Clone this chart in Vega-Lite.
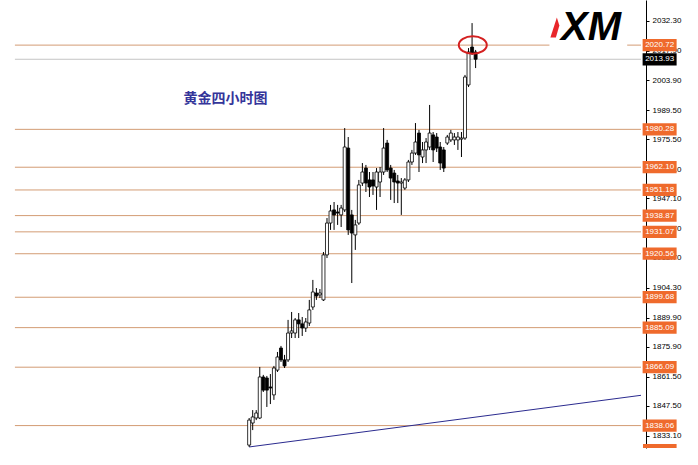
{
  "$schema": "https://vega.github.io/schema/vega-lite/v6.json",
  "width": 646,
  "height": 448,
  "autosize": "none",
  "padding": {"left": 0, "top": 0, "right": 52, "bottom": 17},
  "background": "white",
  "config": {
    "view": {"stroke": null},
    "axisY": {"orient": "right", "title": null, "grid": false, "format": ".2f", "domainColor": "black", "domainWidth": 1, "tickColor": "black", "tickSize": 3, "labelPadding": 3,
      "labelFont": "Liberation Sans", "labelFontSize": 8, "labelColor": "black", "labelOverlap": false, "labelFlush": false, "labelBaseline": "middle"}
  },
  "datasets": {
    "candles": [
      {"i":0,"o":1828.7,"h":1841.7,"l":1827.8,"c":1840.7},
      {"i":1,"o":1839.3,"h":1845.5,"l":1835.9,"c":1842.2},
      {"i":2,"o":1841.7,"h":1845.5,"l":1840.7,"c":1844.1},
      {"i":3,"o":1841.7,"h":1866.2,"l":1841.2,"c":1861.4},
      {"i":4,"o":1861.4,"h":1862.4,"l":1854.2,"c":1855.1},
      {"i":5,"o":1860.9,"h":1861.9,"l":1847.0,"c":1855.1},
      {"i":6,"o":1856.6,"h":1862.8,"l":1848.4,"c":1856.1},
      {"i":7,"o":1852.8,"h":1866.7,"l":1850.4,"c":1865.7},
      {"i":8,"o":1864.7,"h":1873.4,"l":1863.8,"c":1871.0},
      {"i":9,"o":1875.3,"h":1876.3,"l":1868.6,"c":1869.6},
      {"i":10,"o":1869.6,"h":1872.0,"l":1865.7,"c":1866.7},
      {"i":11,"o":1869.6,"h":1888.8,"l":1868.6,"c":1882.5},
      {"i":12,"o":1882.5,"h":1892.6,"l":1880.1,"c":1883.5},
      {"i":13,"o":1882.5,"h":1889.7,"l":1880.1,"c":1888.8},
      {"i":14,"o":1888.8,"h":1892.1,"l":1880.1,"c":1886.9},
      {"i":15,"o":1886.9,"h":1890.2,"l":1881.1,"c":1884.9},
      {"i":16,"o":1884.9,"h":1889.7,"l":1883.0,"c":1887.8},
      {"i":17,"o":1887.3,"h":1898.4,"l":1885.9,"c":1893.6},
      {"i":18,"o":1895.0,"h":1908.0,"l":1893.6,"c":1902.2},
      {"i":19,"o":1901.7,"h":1904.1,"l":1898.4,"c":1900.3},
      {"i":20,"o":1900.8,"h":1903.6,"l":1899.3,"c":1901.7},
      {"i":21,"o":1898.4,"h":1921.4,"l":1897.9,"c":1920.0},
      {"i":22,"o":1920.0,"h":1937.7,"l":1918.5,"c":1935.3},
      {"i":23,"o":1935.3,"h":1944.0,"l":1932.0,"c":1941.1},
      {"i":24,"o":1941.6,"h":1945.4,"l":1932.0,"c":1939.2},
      {"i":25,"o":1940.6,"h":1944.0,"l":1934.4,"c":1940.1},
      {"i":26,"o":1939.2,"h":1944.0,"l":1933.4,"c":1942.5},
      {"i":27,"o":1941.6,"h":1980.9,"l":1940.6,"c":1971.8},
      {"i":28,"o":1971.3,"h":1976.6,"l":1929.6,"c":1932.0},
      {"i":29,"o":1939.2,"h":1941.6,"l":1906.5,"c":1930.5},
      {"i":30,"o":1929.6,"h":1936.8,"l":1922.4,"c":1934.4},
      {"i":31,"o":1935.3,"h":1956.0,"l":1934.4,"c":1953.6},
      {"i":32,"o":1954.5,"h":1964.1,"l":1953.1,"c":1959.8},
      {"i":33,"o":1961.7,"h":1963.2,"l":1950.2,"c":1954.5},
      {"i":34,"o":1956.0,"h":1959.8,"l":1947.8,"c":1952.6},
      {"i":35,"o":1956.0,"h":1959.8,"l":1948.8,"c":1953.1},
      {"i":36,"o":1952.6,"h":1961.7,"l":1941.6,"c":1959.8},
      {"i":37,"o":1955.0,"h":1962.2,"l":1947.8,"c":1959.8},
      {"i":38,"o":1959.8,"h":1980.9,"l":1958.4,"c":1971.3},
      {"i":39,"o":1973.7,"h":1975.2,"l":1959.8,"c":1960.8},
      {"i":40,"o":1961.7,"h":1963.2,"l":1946.4,"c":1956.9},
      {"i":41,"o":1959.3,"h":1960.8,"l":1944.9,"c":1955.0},
      {"i":42,"o":1955.5,"h":1958.4,"l":1944.9,"c":1954.5},
      {"i":43,"o":1954.5,"h":1956.9,"l":1939.2,"c":1955.0},
      {"i":44,"o":1952.1,"h":1956.9,"l":1951.2,"c":1956.0},
      {"i":45,"o":1956.0,"h":1965.6,"l":1955.0,"c":1964.6},
      {"i":46,"o":1964.6,"h":1970.4,"l":1963.2,"c":1968.9},
      {"i":47,"o":1968.9,"h":1983.3,"l":1968.0,"c":1974.2},
      {"i":48,"o":1978.5,"h":1980.0,"l":1959.8,"c":1968.0},
      {"i":49,"o":1967.0,"h":1974.2,"l":1964.1,"c":1970.4},
      {"i":50,"o":1970.4,"h":1976.1,"l":1964.1,"c":1974.2},
      {"i":51,"o":1971.8,"h":1992.0,"l":1970.4,"c":1978.5},
      {"i":52,"o":1977.6,"h":1979.0,"l":1964.6,"c":1970.4},
      {"i":53,"o":1976.6,"h":1978.5,"l":1969.4,"c":1971.3},
      {"i":54,"o":1971.8,"h":1974.2,"l":1960.8,"c":1964.1},
      {"i":55,"o":1970.4,"h":1971.8,"l":1959.8,"c":1961.7},
      {"i":56,"o":1973.7,"h":1977.6,"l":1972.8,"c":1976.6},
      {"i":57,"o":1975.2,"h":1980.0,"l":1974.2,"c":1978.5},
      {"i":58,"o":1975.2,"h":1978.5,"l":1972.8,"c":1976.6},
      {"i":59,"o":1975.2,"h":1979.0,"l":1970.4,"c":1976.6},
      {"i":60,"o":1975.6,"h":1979.0,"l":1967.0,"c":1976.1},
      {"i":61,"o":1976.1,"h":2006.4,"l":1975.2,"c":2005.4},
      {"i":62,"o":2001.6,"h":2019.3,"l":2000.6,"c":2017.4},
      {"i":63,"o":2019.8,"h":2031.3,"l":2016.0,"c":2016.9},
      {"i":64,"o":2017.4,"h":2018.4,"l":2009.7,"c":2013.93}
    ],
    "levels": [
      {"level": 2020.72}, {"level": 1980.28}, {"level": 1962.10}, {"level": 1951.18},
      {"level": 1938.87}, {"level": 1931.07}, {"level": 1920.56}, {"level": 1899.68},
      {"level": 1885.09}, {"level": 1866.09}, {"level": 1838.06}
    ],
    "price": [{"level": 2013.93}],
    "trend": [{"i": 0, "p": 1827.8}, {"i": 110.74, "p": 1852.6}],
    "one": [{}]
  },
  "layer": [
    {
      "data": {"name": "levels"},
      "mark": {"type": "rule", "color": "#d39c74", "strokeWidth": 1},
      "encoding": {
        "x": {"datum": -66.2, "type": "quantitative", "scale": {"domain": [-69.0, 110.74], "nice": false, "zero": false}, "axis": null},
        "x2": {"datum": 110.74},
        "y": {"field": "level", "type": "quantitative", "scale": {"domain": [1827.3, 2042.38], "nice": false, "zero": false},
          "axis": {"values": [2032.3, 2017.9, 2003.9, 1989.5, 1975.5, 1961.1, 1947.1, 1932.7, 1918.7, 1904.3, 1889.9, 1875.9, 1861.5, 1847.5, 1833.1]}}
      }
    },
    {
      "data": {"name": "price"},
      "mark": {"type": "rule", "color": "#c4c4c4", "strokeWidth": 1},
      "encoding": {
        "x": {"datum": -66.2, "type": "quantitative", "scale": {"domain": [-69.0, 110.74], "nice": false, "zero": false}, "axis": null},
        "x2": {"datum": 110.74},
        "y": {"field": "level", "type": "quantitative", "scale": {"domain": [1827.3, 2042.38], "nice": false, "zero": false},
          "axis": {"values": [2032.3, 2017.9, 2003.9, 1989.5, 1975.5, 1961.1, 1947.1, 1932.7, 1918.7, 1904.3, 1889.9, 1875.9, 1861.5, 1847.5, 1833.1]}}
      }
    },
    {
      "data": {"name": "trend"},
      "mark": {"type": "line", "color": "#2b2b8f", "strokeWidth": 1},
      "encoding": {
        "x": {"field": "i", "type": "quantitative", "scale": {"domain": [-69.0, 110.74], "nice": false, "zero": false}, "axis": null},
        "y": {"field": "p", "type": "quantitative", "scale": {"domain": [1827.3, 2042.38], "nice": false, "zero": false},
          "axis": {"values": [2032.3, 2017.9, 2003.9, 1989.5, 1975.5, 1961.1, 1947.1, 1932.7, 1918.7, 1904.3, 1889.9, 1875.9, 1861.5, 1847.5, 1833.1]}}
      }
    },
    {
      "data": {"name": "candles"},
      "mark": {"type": "rule", "color": "black", "strokeWidth": 1},
      "encoding": {
        "x": {"field": "i", "type": "quantitative", "scale": {"domain": [-69.0, 110.74], "nice": false, "zero": false}, "axis": null},
        "y": {"field": "l", "type": "quantitative", "scale": {"domain": [1827.3, 2042.38], "nice": false, "zero": false},
          "axis": {"values": [2032.3, 2017.9, 2003.9, 1989.5, 1975.5, 1961.1, 1947.1, 1932.7, 1918.7, 1904.3, 1889.9, 1875.9, 1861.5, 1847.5, 1833.1]}},
        "y2": {"field": "h"}
      }
    },
    {
      "data": {"name": "candles"},
      "mark": {"type": "bar", "orient": "vertical", "width": 3, "stroke": "black", "strokeWidth": 0.8},
      "encoding": {
        "x": {"field": "i", "type": "quantitative", "scale": {"domain": [-69.0, 110.74], "nice": false, "zero": false}, "axis": null},
        "y": {"field": "o", "type": "quantitative", "scale": {"domain": [1827.3, 2042.38], "nice": false, "zero": false},
          "axis": {"values": [2032.3, 2017.9, 2003.9, 1989.5, 1975.5, 1961.1, 1947.1, 1932.7, 1918.7, 1904.3, 1889.9, 1875.9, 1861.5, 1847.5, 1833.1]}},
        "y2": {"field": "c"},
        "fill": {"condition": {"test": "datum.c >= datum.o", "value": "white"}, "value": "black"}
      }
    },
    {
      "data": {"name": "one"},
      "mark": {"type": "point", "shape": "M -1 0 A 1 0.62 0 1 0 1 0 A 1 0.62 0 1 0 -1 0 Z", "size": 784, "filled": false, "stroke": "#d42020", "strokeWidth": 2, "opacity": 1},
      "encoding": {
        "x": {"datum": 63.2, "type": "quantitative", "scale": {"domain": [-69.0, 110.74], "nice": false, "zero": false}, "axis": null},
        "y": {"datum": 2020.8, "type": "quantitative", "scale": {"domain": [1827.3, 2042.38], "nice": false, "zero": false},
          "axis": {"values": [2032.3, 2017.9, 2003.9, 1989.5, 1975.5, 1961.1, 1947.1, 1932.7, 1918.7, 1904.3, 1889.9, 1875.9, 1861.5, 1847.5, 1833.1]}}
      }
    },
    {
      "data": {"name": "one"},
      "mark": {"type": "rect", "fill": "white"},
      "encoding": {
        "x": {"datum": 84.86, "type": "quantitative", "scale": {"domain": [-69.0, 110.74], "nice": false, "zero": false}, "axis": null},
        "x2": {"datum": 106.84},
        "y": {"datum": 2041.4, "type": "quantitative", "scale": {"domain": [1827.3, 2042.38], "nice": false, "zero": false},
          "axis": {"values": [2032.3, 2017.9, 2003.9, 1989.5, 1975.5, 1961.1, 1947.1, 1932.7, 1918.7, 1904.3, 1889.9, 1875.9, 1861.5, 1847.5, 1833.1]}},
        "y2": {"datum": 2019.8}
      }
    },
    {
      "data": {"name": "one"},
      "mark": {"type": "text", "text": "XM", "font": "Liberation Sans", "fontSize": 40, "fontWeight": "bold", "fontStyle": "italic", "color": "black", "align": "center", "baseline": "alphabetic"},
      "encoding": {
        "x": {"datum": 96.6, "type": "quantitative", "scale": {"domain": [-69.0, 110.74], "nice": false, "zero": false}, "axis": null},
        "y": {"datum": 2023.2, "type": "quantitative", "scale": {"domain": [1827.3, 2042.38], "nice": false, "zero": false},
          "axis": {"values": [2032.3, 2017.9, 2003.9, 1989.5, 1975.5, 1961.1, 1947.1, 1932.7, 1918.7, 1904.3, 1889.9, 1875.9, 1861.5, 1847.5, 1833.1]}}
      }
    },
    {
      "data": {"name": "one"},
      "mark": {"type": "point", "shape": "M -0.45 1 L 0.2 -1 L 0.45 -0.2 L 0.1 1 Z", "size": 400, "filled": true, "fill": "#e8262a", "strokeWidth": 0, "opacity": 1},
      "encoding": {
        "x": {"datum": 86.4, "type": "quantitative", "scale": {"domain": [-69.0, 110.74], "nice": false, "zero": false}, "axis": null},
        "y": {"datum": 2029.2, "type": "quantitative", "scale": {"domain": [1827.3, 2042.38], "nice": false, "zero": false},
          "axis": {"values": [2032.3, 2017.9, 2003.9, 1989.5, 1975.5, 1961.1, 1947.1, 1932.7, 1918.7, 1904.3, 1889.9, 1875.9, 1861.5, 1847.5, 1833.1]}}
      }
    },
    {
      "data": {"name": "one"},
      "mark": {"type": "text", "text": "黄金四小时图", "font": "Noto Sans CJK SC", "fontSize": 14, "fontWeight": "bold", "color": "#35359a", "align": "center", "baseline": "middle"},
      "encoding": {
        "x": {"datum": -6.68, "type": "quantitative", "scale": {"domain": [-69.0, 110.74], "nice": false, "zero": false}, "axis": null},
        "y": {"datum": 1994.85, "type": "quantitative", "scale": {"domain": [1827.3, 2042.38], "nice": false, "zero": false},
          "axis": {"values": [2032.3, 2017.9, 2003.9, 1989.5, 1975.5, 1961.1, 1947.1, 1932.7, 1918.7, 1904.3, 1889.9, 1875.9, 1861.5, 1847.5, 1833.1]}}
      }
    },
    {
      "data": {"name": "levels"},
      "mark": {"type": "point", "shape": "M -1 -0.36 L 1 -0.36 L 1 0.36 L -1 0.36 Z", "size": 1156, "filled": true, "fill": "#ef6a2c", "strokeWidth": 0, "opacity": 1},
      "encoding": {
        "x": {"datum": 116.0, "type": "quantitative", "scale": {"domain": [-69.0, 110.74], "nice": false, "zero": false}, "axis": null},
        "y": {"field": "level", "type": "quantitative", "scale": {"domain": [1827.3, 2042.38], "nice": false, "zero": false},
          "axis": {"values": [2032.3, 2017.9, 2003.9, 1989.5, 1975.5, 1961.1, 1947.1, 1932.7, 1918.7, 1904.3, 1889.9, 1875.9, 1861.5, 1847.5, 1833.1]}}
      }
    },
    {
      "data": {"name": "price"},
      "mark": {"type": "point", "shape": "M -1 -0.36 L 1 -0.36 L 1 0.36 L -1 0.36 Z", "size": 1156, "filled": true, "fill": "black", "strokeWidth": 0, "opacity": 1},
      "encoding": {
        "x": {"datum": 116.0, "type": "quantitative", "scale": {"domain": [-69.0, 110.74], "nice": false, "zero": false}, "axis": null},
        "y": {"field": "level", "type": "quantitative", "scale": {"domain": [1827.3, 2042.38], "nice": false, "zero": false},
          "axis": {"values": [2032.3, 2017.9, 2003.9, 1989.5, 1975.5, 1961.1, 1947.1, 1932.7, 1918.7, 1904.3, 1889.9, 1875.9, 1861.5, 1847.5, 1833.1]}}
      }
    },
    {
      "data": {"name": "one"},
      "mark": {"type": "rect", "fill": "#ef6a2c"},
      "encoding": {
        "x": {"datum": 111.3, "type": "quantitative", "scale": {"domain": [-69.0, 110.74], "nice": false, "zero": false}, "axis": null},
        "x2": {"datum": 120.8},
        "y": {"datum": 1829.2, "type": "quantitative", "scale": {"domain": [1827.3, 2042.38], "nice": false, "zero": false},
          "axis": {"values": [2032.3, 2017.9, 2003.9, 1989.5, 1975.5, 1961.1, 1947.1, 1932.7, 1918.7, 1904.3, 1889.9, 1875.9, 1861.5, 1847.5, 1833.1]}},
        "y2": {"datum": 1827.3}
      }
    },
    {
      "data": {"name": "levels"},
      "mark": {"type": "text", "font": "Liberation Sans", "fontSize": 8, "color": "white", "align": "center", "baseline": "middle"},
      "encoding": {
        "x": {"datum": 116.0, "type": "quantitative", "scale": {"domain": [-69.0, 110.74], "nice": false, "zero": false}, "axis": null},
        "y": {"field": "level", "type": "quantitative", "scale": {"domain": [1827.3, 2042.38], "nice": false, "zero": false},
          "axis": {"values": [2032.3, 2017.9, 2003.9, 1989.5, 1975.5, 1961.1, 1947.1, 1932.7, 1918.7, 1904.3, 1889.9, 1875.9, 1861.5, 1847.5, 1833.1]}},
        "text": {"field": "level", "type": "quantitative", "format": ".2f"}
      }
    },
    {
      "data": {"name": "price"},
      "mark": {"type": "text", "font": "Liberation Sans", "fontSize": 8, "color": "white", "align": "center", "baseline": "middle"},
      "encoding": {
        "x": {"datum": 116.0, "type": "quantitative", "scale": {"domain": [-69.0, 110.74], "nice": false, "zero": false}, "axis": null},
        "y": {"field": "level", "type": "quantitative", "scale": {"domain": [1827.3, 2042.38], "nice": false, "zero": false},
          "axis": {"values": [2032.3, 2017.9, 2003.9, 1989.5, 1975.5, 1961.1, 1947.1, 1932.7, 1918.7, 1904.3, 1889.9, 1875.9, 1861.5, 1847.5, 1833.1]}},
        "text": {"field": "level", "type": "quantitative", "format": ".2f"}
      }
    }
  ]
}
